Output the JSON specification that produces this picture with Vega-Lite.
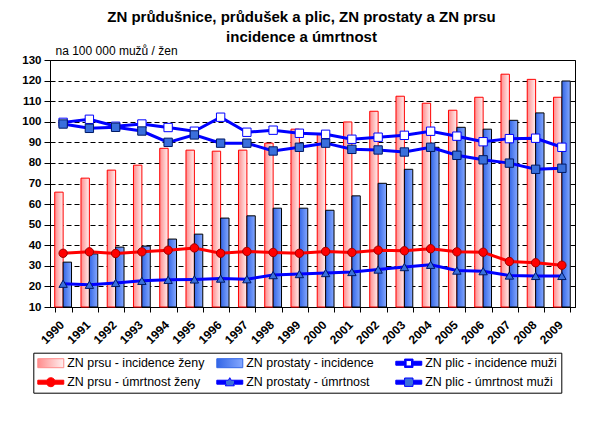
{
  "$schema": "https://vega.github.io/schema/vega-lite/v6.json",
  "width": 525,
  "height": 247,
  "autosize": "none",
  "padding": {"left": 50, "top": 60, "right": 36, "bottom": 121},
  "background": "white",
  "config": {
    "font": "Liberation Sans",
    "view": {"stroke": "black", "strokeWidth": 1}
  },
  "title": {
    "text": ["ZN průdušnice, průdušek a plic, ZN prostaty a ZN prsu", "incidence a úmrtnost"],
    "font": "Liberation Sans",
    "fontSize": 15,
    "fontWeight": "bold",
    "color": "black",
    "anchor": "middle",
    "frame": "group",
    "dx": -11,
    "offset": -1,
    "lineHeight": 20
  },
  "data": {"values": [
    {"y":"1990","s":"bi","v":65.8},{"y":"1991","s":"bi","v":72.6},{"y":"1992","s":"bi","v":76.5},{"y":"1993","s":"bi","v":78.9},{"y":"1994","s":"bi","v":87.1},{"y":"1995","s":"bi","v":86.2},{"y":"1996","s":"bi","v":85.7},{"y":"1997","s":"bi","v":86.2},{"y":"1998","s":"bi","v":89.6},{"y":"1999","s":"bi","v":96.4},{"y":"2000","s":"bi","v":93.9},{"y":"2001","s":"bi","v":99.9},{"y":"2002","s":"bi","v":105.1},{"y":"2003","s":"bi","v":112.4},{"y":"2004","s":"bi","v":109.0},{"y":"2005","s":"bi","v":105.6},{"y":"2006","s":"bi","v":111.9},{"y":"2007","s":"bi","v":123.1},{"y":"2008","s":"bi","v":120.6},{"y":"2009","s":"bi","v":111.9},
    {"y":"1990","s":"pi","v":31.8},{"y":"1991","s":"pi","v":35.8},{"y":"1992","s":"pi","v":39.1},{"y":"1993","s":"pi","v":39.6},{"y":"1994","s":"pi","v":43.0},{"y":"1995","s":"pi","v":45.4},{"y":"1996","s":"pi","v":53.2},{"y":"1997","s":"pi","v":54.3},{"y":"1998","s":"pi","v":58.0},{"y":"1999","s":"pi","v":58.0},{"y":"2000","s":"pi","v":57.0},{"y":"2001","s":"pi","v":64.0},{"y":"2002","s":"pi","v":70.1},{"y":"2003","s":"pi","v":76.9},{"y":"2004","s":"pi","v":87.6},{"y":"2005","s":"pi","v":97.3},{"y":"2006","s":"pi","v":96.4},{"y":"2007","s":"pi","v":100.7},{"y":"2008","s":"pi","v":104.3},{"y":"2009","s":"pi","v":119.8},
    {"y":"1990","s":"li","v":99.7},{"y":"1991","s":"li","v":101.2},{"y":"1992","s":"li","v":97.8},{"y":"1993","s":"li","v":98.9},{"y":"1994","s":"li","v":97.2},{"y":"1995","s":"li","v":95.4},{"y":"1996","s":"li","v":102.2},{"y":"1997","s":"li","v":94.9},{"y":"1998","s":"li","v":95.9},{"y":"1999","s":"li","v":94.4},{"y":"2000","s":"li","v":93.9},{"y":"2001","s":"li","v":91.5},{"y":"2002","s":"li","v":92.5},{"y":"2003","s":"li","v":93.4},{"y":"2004","s":"li","v":95.4},{"y":"2005","s":"li","v":93.0},{"y":"2006","s":"li","v":90.3},{"y":"2007","s":"li","v":91.8},{"y":"2008","s":"li","v":92.0},{"y":"2009","s":"li","v":87.6},
    {"y":"1990","s":"bm","v":36.1},{"y":"1991","s":"bm","v":36.8},{"y":"1992","s":"bm","v":36.0},{"y":"1993","s":"bm","v":36.8},{"y":"1994","s":"bm","v":37.6},{"y":"1995","s":"bm","v":38.7},{"y":"1996","s":"bm","v":36.1},{"y":"1997","s":"bm","v":37.0},{"y":"1998","s":"bm","v":36.5},{"y":"1999","s":"bm","v":36.1},{"y":"2000","s":"bm","v":37.0},{"y":"2001","s":"bm","v":36.5},{"y":"2002","s":"bm","v":37.6},{"y":"2003","s":"bm","v":37.3},{"y":"2004","s":"bm","v":38.3},{"y":"2005","s":"bm","v":36.8},{"y":"2006","s":"bm","v":36.6},{"y":"2007","s":"bm","v":32.1},{"y":"2008","s":"bm","v":31.5},{"y":"2009","s":"bm","v":30.3},
    {"y":"1990","s":"pm","v":21.3},{"y":"1991","s":"pm","v":20.8},{"y":"1992","s":"pm","v":21.7},{"y":"1993","s":"pm","v":22.7},{"y":"1994","s":"pm","v":23.2},{"y":"1995","s":"pm","v":23.4},{"y":"1996","s":"pm","v":23.8},{"y":"1997","s":"pm","v":23.5},{"y":"1998","s":"pm","v":25.5},{"y":"1999","s":"pm","v":26.0},{"y":"2000","s":"pm","v":26.5},{"y":"2001","s":"pm","v":27.0},{"y":"2002","s":"pm","v":28.2},{"y":"2003","s":"pm","v":29.4},{"y":"2004","s":"pm","v":30.5},{"y":"2005","s":"pm","v":27.7},{"y":"2006","s":"pm","v":27.4},{"y":"2007","s":"pm","v":25.3},{"y":"2008","s":"pm","v":25.1},{"y":"2009","s":"pm","v":25.1},
    {"y":"1990","s":"lm","v":98.9},{"y":"1991","s":"lm","v":96.8},{"y":"1992","s":"lm","v":97.3},{"y":"1993","s":"lm","v":95.5},{"y":"1994","s":"lm","v":90.0},{"y":"1995","s":"lm","v":93.6},{"y":"1996","s":"lm","v":89.6},{"y":"1997","s":"lm","v":89.6},{"y":"1998","s":"lm","v":85.8},{"y":"1999","s":"lm","v":87.6},{"y":"2000","s":"lm","v":89.6},{"y":"2001","s":"lm","v":86.6},{"y":"2002","s":"lm","v":86.3},{"y":"2003","s":"lm","v":85.3},{"y":"2004","s":"lm","v":87.6},{"y":"2005","s":"lm","v":83.7},{"y":"2006","s":"lm","v":81.5},{"y":"2007","s":"lm","v":79.9},{"y":"2008","s":"lm","v":76.9},{"y":"2009","s":"lm","v":77.4}
  ]},
  "encoding": {
    "x": {
      "field": "y", "type": "ordinal",
      "scale": {"paddingInner": 0.36, "paddingOuter": 0.18},
      "axis": {
        "title": null, "labelAngle": -45, "labelFontWeight": "bold", "labelFontSize": 12,
        "labelColor": "black", "domainColor": "black", "tickColor": "black", "tickSize": 5,
        "tickBand": "extent", "grid": false, "labelPadding": 7, "labelOffset": -5
      }
    },
    "y": {
      "field": "v", "type": "quantitative",
      "scale": {"domain": [10, 130], "nice": false, "zero": false},
      "axis": {
        "values": [10, 20, 30, 40, 50, 60, 70, 80, 90, 100, 110, 120, 130],
        "title": "na 100 000 mužů / žen", "titleAngle": 0, "titleX": 5, "titleY": -3,
        "titleAlign": "left", "titleBaseline": "bottom", "titleFontWeight": "normal",
        "titleFontSize": 12, "titleColor": "black",
        "labelFontWeight": "bold", "labelFontSize": 11.5, "labelColor": "black",
        "tickSize": 6, "tickColor": "black", "domainColor": "black",
        "grid": true, "gridColor": "black", "gridDash": [5, 3], "gridOpacity": 1, "labelPadding": 3
      }
    }
  },
  "layer": [
    {
      "transform": [{"filter": "datum.s === 'bi'"}],
      "mark": {
        "type": "bar", "stroke": "#ff0000", "strokeWidth": 1,
        "fill": {"gradient": "linear", "x1": 0, "y1": 0, "x2": 1, "y2": 0,
          "stops": [{"offset": 0, "color": "#ff8c8c"}, {"offset": 1, "color": "#fff0f0"}]}
      },
      "encoding": {
        "xOffset": {"field": "s", "scale": {"domain": ["bi", "pi"]}},
        "y2": {"datum": 10}
      }
    },
    {
      "transform": [{"filter": "datum.s === 'pi'"}],
      "mark": {
        "type": "bar", "stroke": "black", "strokeWidth": 1,
        "fill": {"gradient": "linear", "x1": 0, "y1": 0, "x2": 1, "y2": 0,
          "stops": [{"offset": 0, "color": "#3366e6"}, {"offset": 1, "color": "#85a8ff"}]}
      },
      "encoding": {
        "xOffset": {"field": "s", "scale": {"domain": ["bi", "pi"]}},
        "y2": {"datum": 10}
      }
    },
    {
      "transform": [{"filter": "datum.s === 'li' || datum.s === 'bm' || datum.s === 'pm' || datum.s === 'lm'"}],
      "mark": {"type": "line", "strokeWidth": 3},
      "encoding": {
        "color": {
          "field": "s", "type": "nominal",
          "scale": {"domain": ["bi", "pi", "li", "bm", "pm", "lm"],
                    "range": ["#ff8c8c", "#3366e6", "#0000ff", "#ff0000", "#0000ff", "#0000ff"]},
          "legend": {
            "title": null, "orient": "none", "legendX": -16.7, "legendY": 292.7,
            "direction": "horizontal", "columns": 3, "gridAlign": "all",
            "columnPadding": 9, "rowPadding": 6, "padding": 4,
            "strokeColor": "black", "symbolSize": 144, "symbolStrokeWidth": 1,
            "labelFont": "Liberation Sans", "labelFontSize": 12.4, "labelColor": "black",
            "labelLimit": 0, "labelOffset": 17,
            "labelExpr": "{'bi':'ZN prsu - incidence ženy','pi':'ZN prostaty - incidence','li':'ZN plic - incidence muži','bm':'ZN prsu - úmrtnost ženy','pm':'ZN prostaty - úmrtnost','lm':'ZN plic - úmrtnost muži'}[datum.value]",
            "encode": {
              "symbols": {
                "update": {
                  "size": {"value": 144},
                  "opacity": {"value": 1},
                  "strokeWidth": {"value": 1},
                  "shape": {"signal": "datum.value === 'bi' || datum.value === 'pi' ? 'M-1,-0.75H3.33V0.75H-1Z' : datum.value === 'bm' ? 'M-1,-0.33H0.494A0.75,0.75 0 0,1 1.84,-0.33H3.33V0.33H1.84A0.75,0.75 0 0,1 0.494,0.33H-1Z' : datum.value === 'pm' ? 'M-1,-0.33H0.934L1.167,-0.75L1.4,-0.33H3.33V0.33H1.767L1.917,0.6H0.417L0.567,0.33H-1Z' : datum.value === 'li' ? 'M-1,-0.33H0.467V-0.7H1.867V-0.33H3.33V0.33H1.867V0.7H0.467V0.33H-1ZM0.717,-0.45V0.45H1.617V-0.45Z' : 'M-1,-0.33H0.467V-0.7H1.867V-0.33H3.33V0.33H1.867V0.7H0.467V0.33H-1Z'"},
                  "fill": {"signal": "datum.value === 'bi' ? {gradient: 'linear', x1: 0, y1: 0, x2: 1, y2: 0, stops: [{offset: 0, color: '#ff8c8c'}, {offset: 1, color: '#fff0f0'}]} : datum.value === 'pi' ? {gradient: 'linear', x1: 0, y1: 0, x2: 1, y2: 0, stops: [{offset: 0, color: '#3366e6'}, {offset: 1, color: '#85a8ff'}]} : datum.value === 'bm' ? '#ff0000' : datum.value === 'li' ? '#0000ff' : {gradient: 'linear', x1: 0, y1: 0, x2: 1, y2: 0, stops: [{offset: 0, color: '#0000ff'}, {offset: 0.335, color: '#0000ff'}, {offset: 0.335, color: '#3a6fdc'}, {offset: 0.665, color: '#3a6fdc'}, {offset: 0.665, color: '#0000ff'}, {offset: 1, color: '#0000ff'}]}"},
                  "stroke": {"signal": "datum.value === 'bi' ? '#ff0000' : datum.value === 'pi' ? 'black' : datum.value === 'li' ? '#0000ff' : datum.value === 'bm' ? {gradient: 'linear', x1: 0, y1: 0, x2: 1, y2: 0, stops: [{offset: 0, color: '#ff0000'}, {offset: 0.335, color: '#ff0000'}, {offset: 0.335, color: '#a00000'}, {offset: 0.665, color: '#a00000'}, {offset: 0.665, color: '#ff0000'}, {offset: 1, color: '#ff0000'}]} : {gradient: 'linear', x1: 0, y1: 0, x2: 1, y2: 0, stops: [{offset: 0, color: '#0000ff'}, {offset: 0.335, color: '#0000ff'}, {offset: 0.335, color: '#001a66'}, {offset: 0.665, color: '#001a66'}, {offset: 0.665, color: '#0000ff'}, {offset: 1, color: '#0000ff'}]}"}
                }
              }
            }
          }
        }
      }
    },
    {
      "transform": [{"filter": "datum.s === 'li' || datum.s === 'bm' || datum.s === 'pm' || datum.s === 'lm'"}],
      "mark": {"type": "point", "filled": true, "size": 70, "strokeWidth": 1, "opacity": 1},
      "encoding": {
        "shape": {"field": "s", "type": "nominal", "legend": null,
          "scale": {"domain": ["li", "bm", "pm", "lm"], "range": ["square", "circle", "triangle-up", "square"]}},
        "fill": {"field": "s", "type": "nominal", "legend": null,
          "scale": {"domain": ["li", "bm", "pm", "lm"], "range": ["white", "#ff0000", "#3a6fdc", "#3a6fdc"]}},
        "stroke": {"field": "s", "type": "nominal", "legend": null,
          "scale": {"domain": ["li", "bm", "pm", "lm"], "range": ["#0000ff", "#a00000", "#001a66", "#001a66"]}}
      }
    }
  ]
}
